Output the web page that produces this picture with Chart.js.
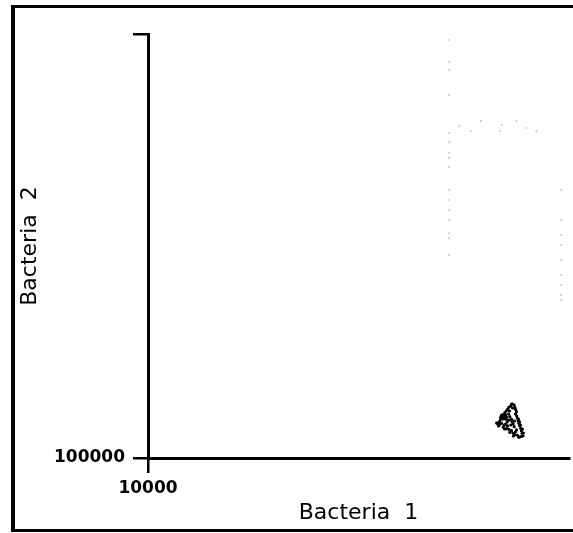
<!DOCTYPE html>
<html>
<head>
<meta charset="utf-8">
<script src="https://cdn.jsdelivr.net/npm/chart.js@4/dist/chart.umd.min.js"></script>
<style>
    html, body { margin: 0; padding: 0; background: #ffffff; overflow: hidden; }
    body { width: 573px; height: 533px; position: relative; }
    #frame {
        position: absolute; left: 11px; top: 5px; width: 700px; height: 527px;
        box-sizing: border-box; border: 3px solid #000; border-left-width: 4px;
    }
    #scatterChart { position: absolute; left: 0; top: 0; }
</style>
</head>
<body>
<div id="frame"></div>
<canvas id="scatterChart" width="573" height="533"></canvas>
<script>
// --- DATA ---
// Main population (dense cluster near the lower right)
const clusterX = [
    466000, 461000, 452800, 446700, 440700, 434200, 419500, 427000, 434200, 423900,
    431500, 442000, 416400, 412100, 407800, 402300, 410800, 419500, 450000, 445300,
    437400, 431500, 457600, 479100, 482100, 485700, 490800, 485700, 492300, 496000,
    499600, 502800, 508100, 513400, 517200, 521000, 526400, 513400, 466000, 469200,
    474100, 462400, 479100, 427000, 442000, 452800, 466000, 457600, 474100, 482100,
    496000, 502800, 485700,
    428400, 437400, 423900, 415100, 437400, 451400, 456100, 470700, 470700, 501200,
    506500, 511800, 522600, 528100, 490800, 475600, 446700, 432900, 406500, 398100,
    461000, 480600
];
const clusterY = [
    179800, 175900, 173400, 169700, 166600, 163600, 159500, 160100, 157800, 155600,
    153900, 155600, 156600, 150000, 146700, 144700, 143600, 145800, 151100, 147900,
    144700, 142700, 156600, 177800, 173400, 169700, 165400, 161300, 157800, 153900,
    150000, 145800, 141600, 138100, 134500, 130800, 127000, 126000, 152200, 147900,
    144700, 143100, 140500, 139600, 137500, 136600, 134500, 132200, 130800, 128800,
    128000, 125200, 132600,
    157800, 159500, 152700, 154400, 152700, 161300, 166600, 172100, 179800, 152700,
    147900, 143100, 137000, 131200, 135600, 127000, 141600, 137000, 141600, 146300,
    151100, 149500
];

// Sparse low-density events
const faintX = [
    240800, 240800, 240800, 240800, 240800, 240800, 240800, 240800, 240800, 240800,
    240800, 240800, 240800, 240800, 240800, 240800,
    267500, 303200, 336800, 419500, 490800, 545000, 605000, 410800,
    786300, 786300, 786300, 786300, 786300, 786300, 786300, 786300, 786300
];
const faintY = [
    9370000, 7380000, 6770000, 5160000, 3410000, 3090000, 2750000, 2600000, 2360000, 1840000,
    1650000, 1480000, 1330000, 1150000, 1090000, 907000,
    3680000, 3490000, 3890000, 3720000, 3890000, 3600000, 3490000, 3490000,
    1840000, 1330000, 1127000, 1011000, 859000, 730000, 655000, 587000, 556000
];

// Axes
const xRange = [10000, 855000];
const yRange = [100000, 10000000];
const xTicks = [10000];
const xTickLabels = ["10000"];
const yTicks = [100000, 10000000];
const yTickLabels = ["100000", ""];

const toPoints = (xs, ys) => xs.map((x, i) => ({ x: x, y: ys[i] }));

// --- CHART ---
const FONT = "'DejaVu Sans', sans-serif";

// Fixed axis boxes so the plot sits where the frame expects it
function fixBox(size) {
    return (scale) => {
        if (scale.isHorizontal()) scale.height = size; else scale.width = size;
        scale.paddingLeft = 0;
        scale.paddingRight = 0;
        scale.paddingTop = 0;
        scale.paddingBottom = 0;
    };
}

const ctx = document.getElementById("scatterChart").getContext("2d");

new Chart(ctx, {
    type: "scatter",
    data: {
        datasets: [
            {
                label: "faint",
                data: toPoints(faintX, faintY),
                pointRadius: 1,
                pointBorderWidth: 0,
                pointBackgroundColor: "#c4c4c4"
            },
            {
                label: "cluster",
                data: toPoints(clusterX, clusterY),
                pointRadius: 1.6,
                pointBorderWidth: 0,
                pointBackgroundColor: "#000000"
            }
        ]
    },
    options: {
        responsive: false,
        animation: false,
        layout: { padding: { left: 0, right: 0, top: 34, bottom: 0 } },
        plugins: {
            legend: { display: false },
            tooltip: { enabled: false }
        },
        scales: {
            x: {
                type: "logarithmic",
                position: "bottom",
                min: xRange[0],
                max: xRange[1],
                afterBuildTicks: (scale) => { scale.ticks = xTicks.map(v => ({ value: v })); },
                afterFit: fixBox(75),
                grid: { drawOnChartArea: false, drawTicks: true, tickLength: 15, color: "#000", lineWidth: 2.5 },
                border: { display: true, color: "#000", width: 3 },
                ticks: {
                    color: "#000",
                    padding: 5,
                    font: { family: FONT, size: 17, weight: "bold" },
                    callback: (value) => {
                        const i = xTicks.indexOf(value);
                        return i >= 0 ? xTickLabels[i] : "";
                    }
                },
                title: {
                    display: true,
                    text: "Bacteria  1",
                    color: "#000",
                    font: { family: FONT, size: 22 },
                    padding: { top: 0, bottom: 7 }
                }
            },
            y: {
                type: "logarithmic",
                position: "left",
                min: yRange[0],
                max: yRange[1],
                afterBuildTicks: (scale) => { scale.ticks = yTicks.map(v => ({ value: v })); },
                afterFit: fixBox(148),
                grid: { drawOnChartArea: false, drawTicks: true, tickLength: 15, color: "#000", lineWidth: 2.5 },
                border: { display: true, color: "#000", width: 3 },
                ticks: {
                    color: "#000",
                    padding: 8,
                    font: { family: FONT, size: 17, weight: "bold" },
                    callback: (value) => {
                        const i = yTicks.indexOf(value);
                        return i >= 0 ? yTickLabels[i] : "";
                    }
                },
                title: {
                    display: true,
                    text: "Bacteria  2",
                    color: "#000",
                    font: { family: FONT, size: 22 },
                    padding: { top: 17, bottom: 0 }
                }
            }
        }
    }
});
</script>
</body>
</html>
